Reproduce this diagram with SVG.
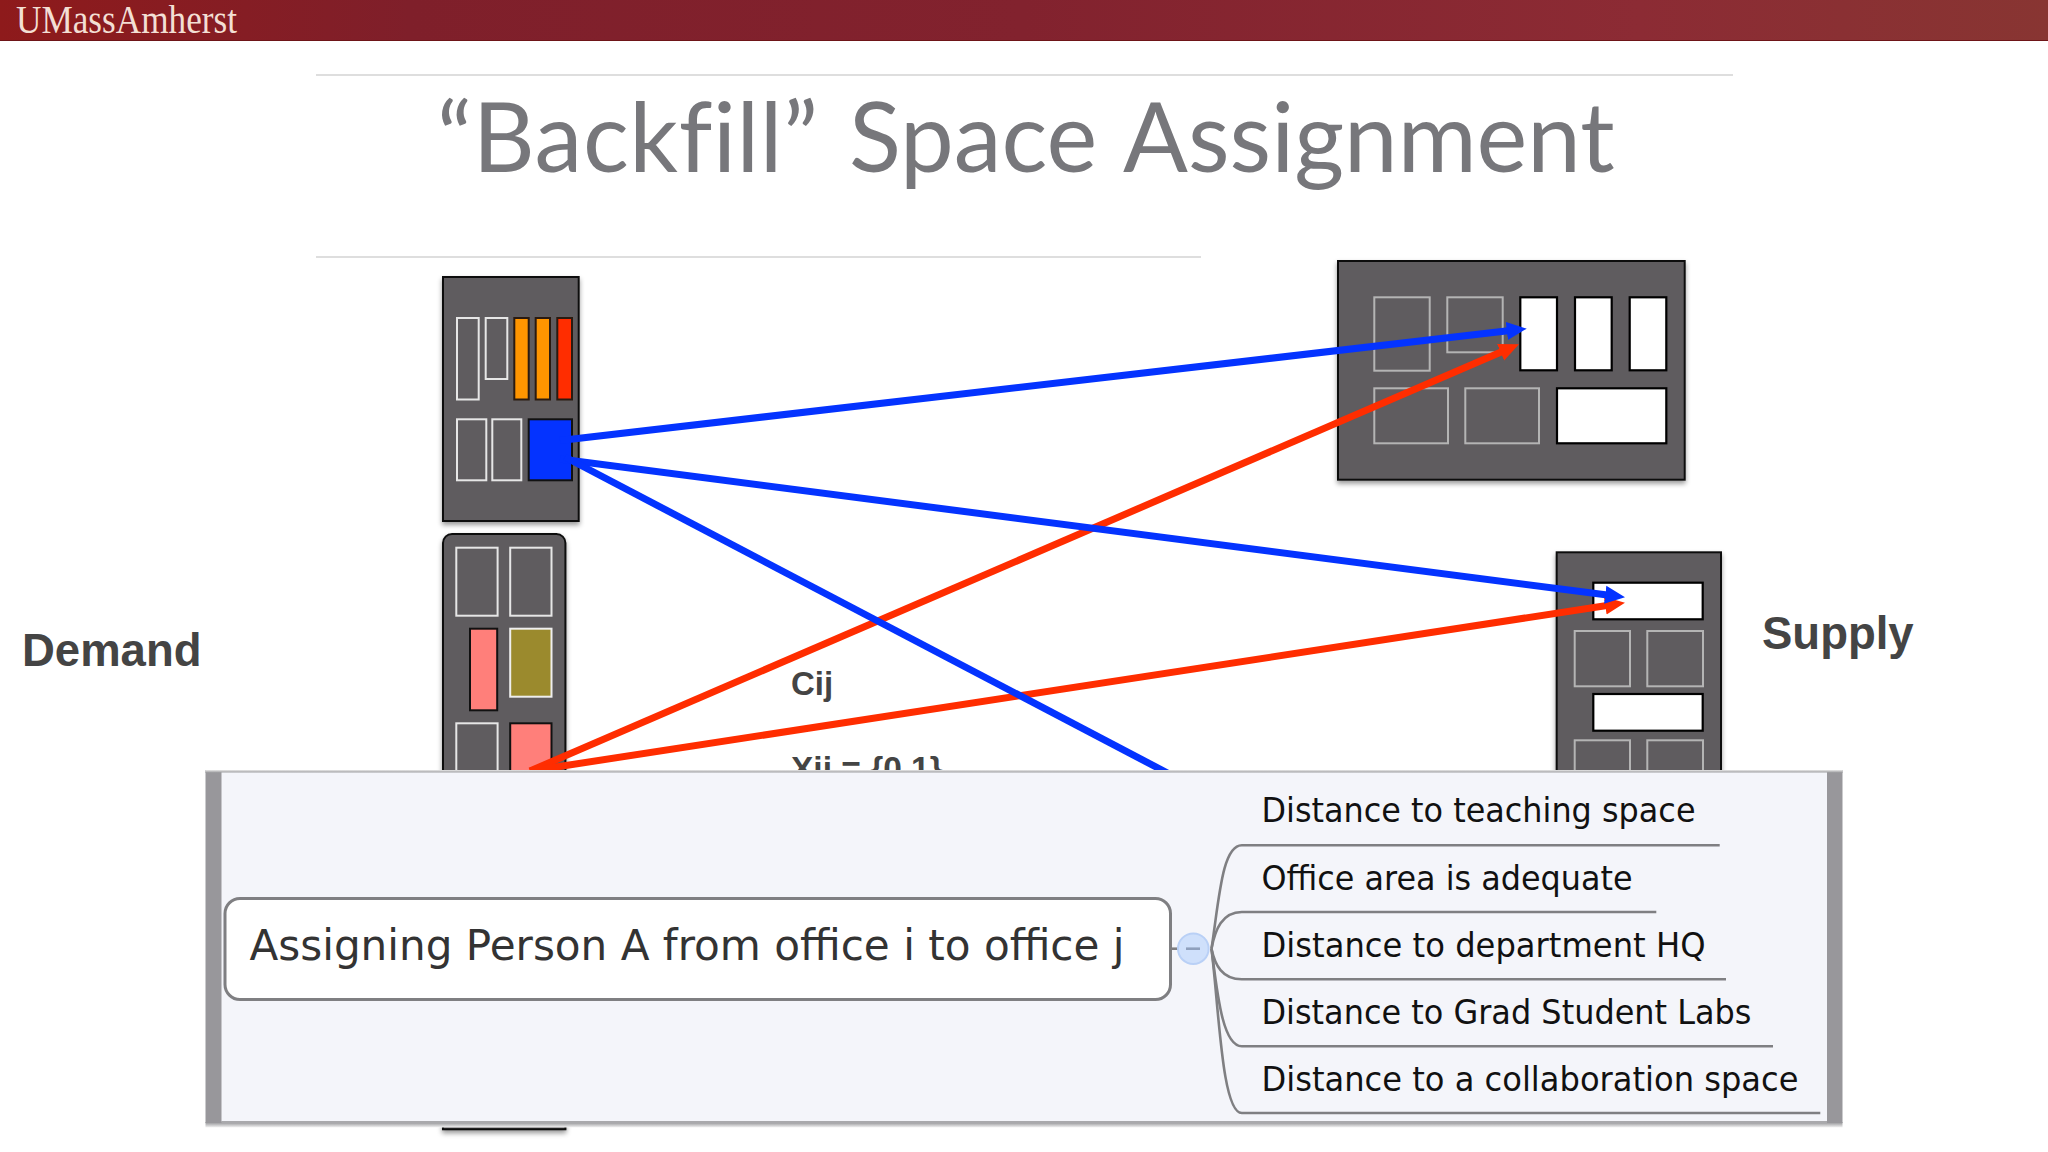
<svg xmlns="http://www.w3.org/2000/svg" width="2048" height="1152" viewBox="0 0 2048 1152">
<style>
.bldg{fill:#5e5c5f;stroke:#111;stroke-width:2}
.g{fill:none;stroke:#e6e6e6;stroke-width:2}
.g2{fill:none;stroke:#b4b4b4;stroke-width:2}
.w{fill:#fff;stroke:#000;stroke-width:2.2}
.blue{stroke:#0433ff;stroke-width:7;fill:none}
.red{stroke:#ff2d00;stroke-width:7;fill:none}
.lab{font-family:"Liberation Sans",Arial,sans-serif;font-weight:700;fill:#444}
.leaf{font-family:"DejaVu Sans",sans-serif;font-size:33px;fill:#111}
.br{fill:none;stroke:#7f7f82;stroke-width:2.6}
</style>
<defs>
<linearGradient id="bar" x1="0" x2="1" y1="0" y2="0"><stop offset="0" stop-color="#8e1a1b"/><stop offset=".2" stop-color="#7f1f2a"/><stop offset=".5" stop-color="#82222e"/><stop offset=".8" stop-color="#8c2b34"/><stop offset="1" stop-color="#883532"/></linearGradient>
<linearGradient id="top" x1="0" x2="0" y1="0" y2="1"><stop offset="0" stop-color="#e8e8e8"/><stop offset="1" stop-color="#8f8f92"/></linearGradient>
<linearGradient id="bot" x1="0" x2="0" y1="0" y2="1"><stop offset="0" stop-color="#8f8f92"/><stop offset="1" stop-color="#f4f4f4"/></linearGradient>
<filter id="sh" x="-10%" y="-10%" width="120%" height="120%"><feDropShadow dx="0" dy="3" stdDeviation="2.5" flood-color="#000" flood-opacity=".4"/></filter>
<filter id="bl" x="-5%" y="-200%" width="110%" height="500%"><feGaussianBlur stdDeviation="0.9"/></filter>
<marker id="ab" markerUnits="userSpaceOnUse" markerWidth="24" markerHeight="22" refX="10" refY="11" orient="auto"><path d="M0 2L20 11L0 20Z" fill="#0433ff"/></marker>
<marker id="ar" markerUnits="userSpaceOnUse" markerWidth="24" markerHeight="22" refX="10" refY="11" orient="auto"><path d="M0 2L20 11L0 20Z" fill="#ff2d00"/></marker>
</defs>
<rect width="2048" height="1152" fill="#fff"/>
<g id="header">
<rect width="2048" height="41" fill="url(#bar)"/>
<path d="M0 40.5H2048" stroke="#6e1518" stroke-width="1"/>
<text x="16" y="33" font-family="'Liberation Serif',serif" font-size="39" fill="#f3dfd4" textLength="221" lengthAdjust="spacingAndGlyphs">UMassAmherst</text>
</g>
<g id="title">
<path d="M316 75H1733M316 257H1201" stroke="#dedede" stroke-width="2" fill="none"/>
<text x="437" y="172" font-family="Lato,sans-serif" font-size="96" fill="#77777b" style="font-variant-ligatures:none"><tspan letter-spacing="0.6">“Backfill” </tspan><tspan x="849">Space </tspan><tspan x="1123">Assignment</tspan></text>
</g>
<text id="demand" class="lab" x="22" y="666" font-size="45.5">Demand</text>
<text id="supply" class="lab" x="1762" y="649" font-size="45.5">Supply</text>
<text id="cij" class="lab" x="791" y="695" font-size="33">Cij</text>
<text id="xij" class="lab" x="791" y="780" font-size="33.5">Xij = {0,1}</text>

<g id="node-demand-1">
<rect class="bldg" x="443" y="277" width="135.7" height="244" filter="url(#sh)"/>
<rect class="g" x="457" y="318" width="21.7" height="81.5"/>
<rect class="g" x="485.7" y="318" width="21.6" height="61"/>
<rect x="514.3" y="318" width="14.4" height="81.5" fill="#ff9500" stroke="#2a1a10" stroke-width="2"/>
<rect x="535.7" y="318" width="14.3" height="81.5" fill="#ff9500" stroke="#2a1a10" stroke-width="2"/>
<rect x="557.3" y="318" width="14.7" height="81.5" fill="#ff2d00" stroke="#2a1a10" stroke-width="2"/>
<rect class="g" x="457" y="419.3" width="29.3" height="61"/>
<rect class="g" x="492.3" y="419.3" width="29" height="61"/>
<rect x="528.7" y="419.3" width="43.3" height="61" fill="#0433ff" stroke="#111" stroke-width="2"/>
</g>
<g id="node-demand-2">
<path class="bldg" d="M443 1129.3V543a9 9 0 0 1 9-9H556.4a9 9 0 0 1 9 9V1129.3Z" filter="url(#sh)"/>
<rect class="g" x="456.3" y="547.7" width="41.3" height="68"/>
<rect class="g" x="510.2" y="547.7" width="41.3" height="68"/>
<rect x="470" y="628.7" width="27.2" height="81.6" fill="#ff7f7a" stroke="#111" stroke-width="2"/>
<rect x="510.2" y="628.7" width="41.3" height="68" fill="#9b8a2d" stroke="#eee" stroke-width="2"/>
<rect class="g" x="456.3" y="723.3" width="41.3" height="68"/>
<rect x="510.2" y="723.3" width="41.3" height="68" fill="#ff7f7a" stroke="#111" stroke-width="2"/>
</g>
<g id="node-supply-1">
<rect class="bldg" x="1338" y="261" width="346.7" height="218.7" filter="url(#sh)"/>
<rect class="g2" x="1374.3" y="297.3" width="55.4" height="73.4"/>
<rect class="g2" x="1447.3" y="297.3" width="55.4" height="55"/>
<rect class="w" x="1520.3" y="297.3" width="36.7" height="73"/>
<rect class="w" x="1575" y="297.3" width="36.7" height="73"/>
<rect class="w" x="1629.7" y="297.3" width="36.6" height="73"/>
<rect class="g2" x="1374.3" y="388.3" width="73.7" height="55"/>
<rect class="g2" x="1465.3" y="388.3" width="73.7" height="55"/>
<rect class="w" x="1557" y="388.3" width="109.3" height="55"/>
</g>
<g id="node-supply-2">
<rect class="bldg" x="1556.7" y="552.3" width="164.3" height="300" filter="url(#sh)"/>
<rect class="w" x="1593.3" y="582.7" width="109.4" height="36.6"/>
<rect class="g2" x="1574.7" y="631" width="55.3" height="55.3"/>
<rect class="g2" x="1647.3" y="631" width="55.7" height="55.3"/>
<rect class="w" x="1593.3" y="694" width="109.4" height="36.7"/>
<rect class="g2" x="1574.7" y="740.3" width="55.3" height="55.3"/>
<rect class="g2" x="1647.3" y="740.3" width="55.7" height="55.3"/>
</g>
<g id="connectors">
<path class="red" d="M530 771L1509.8 348.3" marker-end="url(#ar)"/>
<path class="red" d="M530 771L1615.1 604.2" marker-end="url(#ar)"/>
<path class="blue" d="M560 440.5L1516.8 329.8" marker-end="url(#ab)"/>
<path class="blue" d="M560 459L1615.1 596" marker-end="url(#ab)"/>
<path class="blue" d="M565 457L1177 778"/>
</g>
<g id="panel">
<path d="M1288 1123.5H1660" stroke="#555" stroke-width="3" filter="url(#bl)"/>
<rect x="205.5" y="1122" width="1637" height="5.5" fill="url(#bot)"/>
<rect x="205.5" y="770" width="1637" height="353" fill="#98979b"/>
<rect x="205.5" y="770" width="1637" height="3" fill="url(#top)"/>
<rect x="221.5" y="772.5" width="1605.5" height="349" fill="#f4f5fa"/>
<path d="M221.5 1122H1827" stroke="#a9a9ac" stroke-width="2"/>
</g>
<g id="root">
<rect x="225" y="898.5" width="945.5" height="101" rx="15" fill="#fff" stroke="#7f7f82" stroke-width="3"/>
<text x="249.5" y="960" font-family="'DejaVu Sans',sans-serif" font-size="42" fill="#333" textLength="875" lengthAdjust="spacingAndGlyphs">Assigning Person A from office i to office j</text>
</g>
<g id="toggle">
<path class="br" d="M1170.5 948.7H1178"/>
<circle cx="1193.3" cy="948.7" r="15.3" fill="#cfe0fb" stroke="#b9d0f6" stroke-width="2"/>
<path d="M1186 948.7H1200" stroke="#8fa0bd" stroke-width="2.6"/>
</g>
<g id="branches">
<path class="br" d="M1211.5 948.7C1219 900 1222 845.3 1241.8 845.3H1719.7"/>
<path class="br" d="M1211.5 948.7C1215 930 1222 912 1241.8 912H1656.3"/>
<path class="br" d="M1211.5 948.7C1215 965 1222 979.3 1241.8 979.3H1726"/>
<path class="br" d="M1211.5 948.7C1217 990 1222 1046.3 1241.8 1046.3H1773"/>
<path class="br" d="M1211.5 948.7C1219 1010 1222 1113 1241.8 1113H1820.3"/>
</g>
<g id="leaf-1"><text class="leaf" x="1261.5" y="822.3" textLength="434" lengthAdjust="spacingAndGlyphs">Distance to teaching space</text></g>
<g id="leaf-2"><text class="leaf" x="1261.5" y="889.6" textLength="371" lengthAdjust="spacingAndGlyphs">Office area is adequate</text></g>
<g id="leaf-3"><text class="leaf" x="1261.5" y="957" textLength="444" lengthAdjust="spacingAndGlyphs">Distance to department HQ</text></g>
<g id="leaf-4"><text class="leaf" x="1261.5" y="1023.6" textLength="490" lengthAdjust="spacingAndGlyphs">Distance to Grad Student Labs</text></g>
<g id="leaf-5"><text class="leaf" x="1261.5" y="1090.6" textLength="537" lengthAdjust="spacingAndGlyphs">Distance to a collaboration space</text></g>
</svg>
